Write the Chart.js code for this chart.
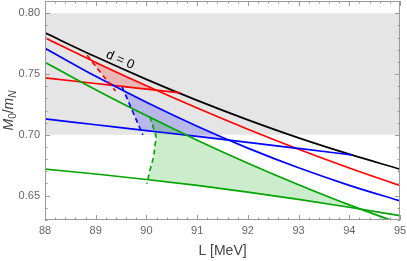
<!DOCTYPE html>
<html>
<head>
<meta charset="utf-8">
<script src="https://cdn.jsdelivr.net/npm/chart.js@4.4.1/dist/chart.umd.min.js"></script>
<style>
  html, body { margin: 0; background: #fff; }
  #wrap { width: 407px; height: 261px; }
</style>
</head>
<body>
<div id="wrap"><canvas id="chart"></canvas></div>
<script>
// M0/mN against L, curves.
const X_TICKS = [88, 89, 90, 91, 92, 93, 94, 95];
const Y_TICKS = [0.65, 0.70, 0.75, 0.80];
const BAND = [0.70, 0.80];

const L_GRID = [88, 89, 90, 91, 92, 93, 94, 95];
const BLACK_D0 = [0.7838, 0.7641, 0.7456, 0.7283, 0.7123, 0.6975, 0.6841, 0.6718];
const RED_UPPER = [0.7797, 0.7595, 0.7403, 0.7220, 0.7046, 0.6882, 0.6728, 0.6583];
const BLUE_UPPER = [0.7712, 0.7481, 0.7268, 0.7071, 0.6891, 0.6729, 0.6585, 0.6457];
const GREEN_UPPER = [0.7597, 0.7371, 0.7158, 0.6956, 0.6767, 0.6590, 0.6424, 0.6271];
const GREEN_LOWER = [0.6718, 0.6678, 0.6633, 0.6584, 0.6529, 0.6470, 0.6405, 0.6336];

const RED_LOWER_L = [88, 89, 90, 90.67];
const RED_LOWER = [0.7468, 0.7422, 0.7376, 0.7345];
const BLUE_LOWER_L = [88, 89, 90, 91, 92, 93, 94.05];
const BLUE_LOWER = [0.7131, 0.7083, 0.7035, 0.6987, 0.6938, 0.6888, 0.6835];

const RED_DASH_L = [88.83, 89.10, 89.39];
const RED_DASH = [0.7655, 0.7510, 0.7361];
const BLUE_DASH_L = [89.52, 89.72, 89.93];
const BLUE_DASH = [0.7395, 0.7200, 0.7000];
const GREEN_DASH_L = [90.07, 90.15, 90.19, 90.17, 90.14, 90.07, 90.01];
const GREEN_DASH = [0.7150, 0.7041, 0.6983, 0.6917, 0.6821, 0.6710, 0.6597];

// shaded regions, outline in order
const RED_FILL_L = [88.91, 89, 90, 90.20, 90, 89.30];
const RED_FILL = [0.7613, 0.7595, 0.7403, 0.7367, 0.7376, 0.7408];
const BLUE_FILL_L = [89.55, 90, 91, 91.64, 91, 90, 89.89];
const BLUE_FILL = [0.7363, 0.7268, 0.7071, 0.6956, 0.6987, 0.7035, 0.7040];
const GREEN_FILL_L = [90.07, 91, 92, 93, 94, 94.23, 94, 93, 92, 91, 90.03, 90.07, 90.14, 90.17, 90.19, 90.15];
const GREEN_FILL = [0.7143, 0.6956, 0.6767, 0.6590, 0.6424, 0.6389, 0.6405, 0.6470, 0.6529, 0.6584, 0.6631, 0.6710, 0.6821, 0.6917, 0.6983, 0.7041];

const D0_LABEL = { x: 89.48, y: 0.7615, text: 'd = 0' };

const RED = 'rgb(255,0,0)', BLUE = 'rgb(0,0,255)', GREEN = 'rgb(0,165,0)', BLACK = '#000';
const FRAME = '#9a9a9a', TICK_TEXT = '#666';
const FONT = "'Liberation Sans', Arial, sans-serif";

Chart.defaults.font.family = FONT;

const pts = (xs, ys) => xs.map((x, i) => ({ x, y: ys[i] }));

function solid(xs, ys, color) {
  return { data: pts(xs, ys), showLine: true, borderColor: color, borderWidth: 1.7, pointRadius: 0,
    cubicInterpolationMode: 'monotone', fill: false, order: 1 };
}
function dashed(xs, ys, color) {
  return { data: pts(xs, ys), showLine: true, borderColor: color, borderWidth: 1.6, borderDash: [5, 3.5],
    pointRadius: 0, tension: 0.4, fill: false, order: 0 };
}
function region(xs, ys, color) {
  return { data: pts(xs, ys), showLine: true, borderColor: 'transparent', borderWidth: 0, pointRadius: 0,
    tension: 0, fill: 'shape', backgroundColor: color, order: 5 };
}

const frame = {
  id: 'frame',
  afterDatasetsDraw(chart) {
    const { ctx, chartArea: a, scales: { x, y } } = chart;
    ctx.save();
    ctx.strokeStyle = FRAME;
    ctx.lineWidth = 1;
    ctx.strokeRect(Math.round(a.left) + 0.5, Math.round(a.top) + 0.5,
      Math.round(a.right - a.left) - 1, Math.round(a.bottom - a.top) - 1);
    ctx.beginPath();
    for (let i = 0; i <= 35; i++) {
      const v = x.min + i * 0.2;
      const len = i % 5 === 0 ? 5 : 2.5;
      const px = Math.round(x.getPixelForValue(v)) + 0.5;
      ctx.moveTo(px, a.bottom); ctx.lineTo(px, a.bottom - len);
      ctx.moveTo(px, a.top); ctx.lineTo(px, a.top + len);
    }
    for (let i = 0; i <= 18; i++) {
      const v = y.min + i * 0.01;
      const len = (i + 3) % 5 === 0 ? 5 : 2.5;
      const py = Math.round(y.getPixelForValue(v)) + 0.5;
      ctx.moveTo(a.left, py); ctx.lineTo(a.left + len, py);
      ctx.moveTo(a.right, py); ctx.lineTo(a.right - len, py);
    }
    ctx.stroke();

    // d = 0 label along the black curve
    const p1 = { x: x.getPixelForValue(L_GRID[1]), y: y.getPixelForValue(BLACK_D0[1]) };
    const p2 = { x: x.getPixelForValue(L_GRID[2]), y: y.getPixelForValue(BLACK_D0[2]) };
    ctx.save();
    ctx.translate(x.getPixelForValue(D0_LABEL.x), y.getPixelForValue(D0_LABEL.y));
    ctx.rotate(Math.atan2(p2.y - p1.y, p2.x - p1.x));
    ctx.fillStyle = BLACK;
    ctx.font = `13px ${FONT}`;
    ctx.textAlign = 'center';
    ctx.textBaseline = 'middle';
    ctx.fillText(D0_LABEL.text, 0, 0);
    ctx.restore();

    // y title M0/mN with subscripts
    const parts = [
      ['M', `italic 14px ${FONT}`, 0], ['0', `10px ${FONT}`, 3],
      ['/', `14px ${FONT}`, 0], ['m', `italic 14px ${FONT}`, 0], ['N', `italic 10px ${FONT}`, 3],
    ];
    let w = 0;
    for (const [t, f] of parts) { ctx.font = f; w += ctx.measureText(t).width; }
    ctx.save();
    ctx.translate(0, (a.top + a.bottom) / 2);
    ctx.rotate(-Math.PI / 2);
    ctx.fillStyle = '#444';
    ctx.textBaseline = 'alphabetic';
    let cx = -w / 2;
    for (const [t, f, dy] of parts) {
      ctx.font = f;
      ctx.fillText(t, cx, 13 + dy);
      cx += ctx.measureText(t).width;
    }
    ctx.restore();
    ctx.restore();
  },
};

new Chart(document.getElementById('chart'), {
  type: 'scatter',
  data: {
    datasets: [
      { data: [{ x: X_TICKS[0], y: BAND[1] }, { x: X_TICKS[X_TICKS.length - 1], y: BAND[1] }], showLine: true,
        borderColor: 'transparent', borderWidth: 0, pointRadius: 0, fill: { value: BAND[0] },
        backgroundColor: '#e5e5e5', order: 10 },
      region(GREEN_FILL_L, GREEN_FILL, 'rgba(0,165,0,0.2)'),
      region(BLUE_FILL_L, BLUE_FILL, 'rgba(0,0,255,0.2)'),
      region(RED_FILL_L, RED_FILL, 'rgba(255,0,0,0.2)'),
      solid(L_GRID, GREEN_LOWER, GREEN),
      solid(L_GRID, GREEN_UPPER, GREEN),
      solid(BLUE_LOWER_L, BLUE_LOWER, BLUE),
      solid(L_GRID, BLUE_UPPER, BLUE),
      solid(RED_LOWER_L, RED_LOWER, RED),
      solid(L_GRID, RED_UPPER, RED),
      solid(L_GRID, BLACK_D0, BLACK),
      dashed(RED_DASH_L, RED_DASH, RED),
      dashed(BLUE_DASH_L, BLUE_DASH, BLUE),
      dashed(GREEN_DASH_L, GREEN_DASH, GREEN),
    ],
  },
  options: {
    responsive: true,
    maintainAspectRatio: false,
    animation: false,
    events: [],
    layout: { padding: { left: 0, right: 7, top: 1, bottom: 0 } },
    plugins: { legend: { display: false }, tooltip: { enabled: false } },
    scales: {
      x: {
        type: 'linear', min: 88, max: 95,
        afterBuildTicks: (s) => { s.ticks = X_TICKS.map((v) => ({ value: v })); },
        afterFit: (s) => { s.height = 41; s.paddingLeft = 0; s.paddingRight = 0; },
        grid: { display: false, drawTicks: false },
        border: { display: false },
        ticks: { padding: 4, color: TICK_TEXT, font: { size: 11 } },
        title: { display: true, text: 'L [MeV]', color: '#444', font: { size: 14 }, padding: { top: 0, bottom: 1 } },
      },
      y: {
        type: 'linear', min: 0.63, max: 0.81,
        afterBuildTicks: (s) => { s.ticks = Y_TICKS.map((v) => ({ value: v })); },
        afterFit: (s) => { s.width = 45; s.paddingTop = 0; s.paddingBottom = 0; },
        grid: { display: false, drawTicks: false },
        border: { display: false },
        ticks: { padding: 5, color: TICK_TEXT, font: { size: 11 }, callback: (v) => v.toFixed(2) },
      },
    },
  },
  plugins: [frame],
});
</script>
</body>
</html>
